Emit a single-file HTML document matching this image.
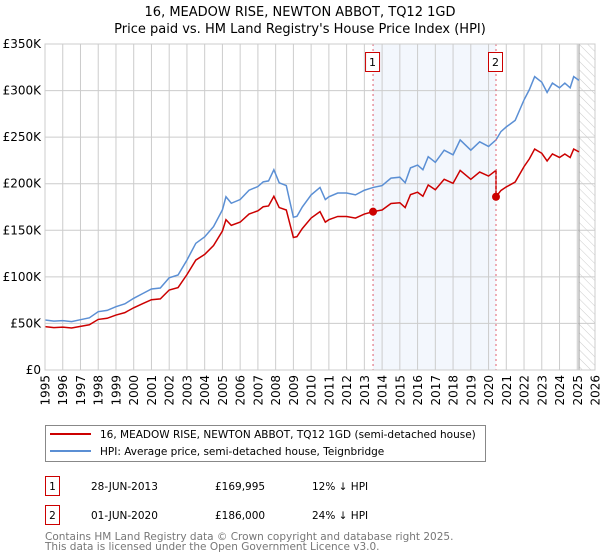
<!DOCTYPE html>
<html><head><meta charset="utf-8"><style>
body{margin:0;background:#fff;}
svg{display:block}
svg text{font-family:"DejaVu Sans","Liberation Sans",sans-serif;}
</style></head><body>
<svg id="c" width="600" height="560" xmlns="http://www.w3.org/2000/svg">
<defs><pattern id="hatch" width="6" height="6" patternUnits="userSpaceOnUse" patternTransform="rotate(-45)"><line x1="0" y1="0" x2="0" y2="6" stroke="#ccc" stroke-width="1"/></pattern></defs>
<text x="300" y="16" text-anchor="middle" font-size="13">16, MEADOW RISE, NEWTON ABBOT, TQ12 1GD</text>
<text x="300" y="33" text-anchor="middle" font-size="13">Price paid vs. HM Land Registry's House Price Index (HPI)</text>
<g id="plot"></g>
<g>
<rect x="45.5" y="425.5" width="440" height="36" fill="#fff" stroke="#888"/>
<line x1="50" y1="434" x2="91" y2="434" stroke="#cc0000" stroke-width="2"/>
<text x="100" y="438" font-size="10.5">16, MEADOW RISE, NEWTON ABBOT, TQ12 1GD (semi-detached house)</text>
<line x1="50" y1="451" x2="91" y2="451" stroke="#5b8fd4" stroke-width="2"/>
<text x="100" y="455" font-size="10.5">HPI: Average price, semi-detached house, Teignbridge</text>
</g>
<g font-size="10.5">
<rect x="45.5" y="476.5" width="14" height="19" fill="#fff" stroke="#cc0000"/>
<text x="52.5" y="490" text-anchor="middle">1</text>
<text x="91" y="490">28-JUN-2013</text><text x="215" y="490">£169,995</text><text x="312" y="490">12% ↓ HPI</text>
<rect x="45.5" y="505.5" width="14" height="19" fill="#fff" stroke="#cc0000"/>
<text x="52.5" y="519" text-anchor="middle">2</text>
<text x="91" y="519">01-JUN-2020</text><text x="215" y="519">£186,000</text><text x="312" y="519">24% ↓ HPI</text>
</g>
<g font-size="10.5" fill="#777">
<text x="45" y="540">Contains HM Land Registry data © Crown copyright and database right 2025.</text>
<text x="45" y="550">This data is licensed under the Open Government Licence v3.0.</text>
</g>
</svg>
<script>
const hpiYears=[1995,1995.5,1996,1996.5,1997,1997.5,1998,1998.5,1999,1999.5,2000,2000.5,2001,2001.5,2002,2002.5,2003,2003.5,2004,2004.5,2005,2005.2,2005.5,2006,2006.5,2007,2007.3,2007.6,2007.9,2008.2,2008.6,2009,2009.2,2009.5,2010,2010.5,2010.8,2011,2011.5,2012,2012.5,2013,2013.5,2014,2014.5,2015,2015.3,2015.6,2016,2016.3,2016.6,2017,2017.5,2018,2018.4,2019,2019.5,2020,2020.42,2020.7,2021,2021.5,2022,2022.3,2022.6,2023,2023.3,2023.6,2024,2024.3,2024.6,2024.8,2025.1];
const hpiValues=[53.7,52.5,53,52,54,56,62.6,64,68,71,77,82,87,88,99,102,118,136,143,154,172,186,179,183,193,197,202,203,215,201,198,164,165,175,188,196,183,186,190,190,188,193,196,198,206,207,201,217,220,215,229,223,236,231,247,236,245,240,247,256,261,268,290,301,315,309,298,308,303,308,303,315,311];
const saleDates=[2013.49,2020.42];
const salePrices=[169995,186000];
const yTicks=[0,50000,100000,150000,200000,250000,300000,350000];
const yTickLabels=["£0","£50K","£100K","£150K","£200K","£250K","£300K","£350K"];
const xTicks=[1995,1996,1997,1998,1999,2000,2001,2002,2003,2004,2005,2006,2007,2008,2009,2010,2011,2012,2013,2014,2015,2016,2017,2018,2019,2020,2021,2022,2023,2024,2025,2026];
const X0=45,X1=595,Y0=370,Y1=44;
const sx=v=>X0+(v-1995)/(2026-1995)*(X1-X0);
const sy=v=>Y0-v/350000*(Y0-Y1);
const NS="http://www.w3.org/2000/svg";
const g=document.getElementById('plot');
function mk(t,a){const e=document.createElementNS(NS,t);for(const k in a)e.setAttribute(k,a[k]);g.appendChild(e);return e;}
let r=mk('rect',{x:sx(saleDates[0]),y:Y1,width:sx(saleDates[1])-sx(saleDates[0]),height:Y0-Y1,fill:'#eef3fc',opacity:0.7});


const dataEnd=2025.1;
let h=mk('rect',{x:sx(dataEnd),y:Y1,width:X1-sx(dataEnd),height:Y0-Y1,fill:'url(#hatch)'});


xTicks.forEach(t=>{const l=mk('line',{x1:sx(t),x2:sx(t),y1:Y1,y2:Y0,stroke:'#ccc','stroke-width':1});


const tx=mk('text',{x:0,y:0,'font-size':12,'text-anchor':'end',transform:`translate(${sx(t)+4.5},${375}) rotate(-90)`});


tx.textContent=t;});
yTicks.forEach((t,i)=>{const l=mk('line',{x1:X0,x2:X1,y1:sy(t),y2:sy(t),stroke:'#ccc','stroke-width':1});


const tx=mk('text',{x:X0-4,y:sy(t)+4,'font-size':12,'text-anchor':'end'});


tx.textContent=yTickLabels[i];});
let el=mk('line',{x1:sx(dataEnd),x2:sx(dataEnd),y1:Y1,y2:Y0,stroke:'#999','stroke-width':1});


function hpiAt(d){for(let i=1;i<hpiYears.length;i++){if(d<=hpiYears[i]){const f=(d-hpiYears[i-1])/(hpiYears[i]-hpiYears[i-1]);return (hpiValues[i-1]+f*(hpiValues[i]-hpiValues[i-1]))*1000;}}return hpiValues[hpiValues.length-1]*1000;}
let hp=hpiYears.map((d,i)=>sx(d)+','+sy(hpiValues[i]*1000)).join(' ');
let hl=mk('polyline',{points:hp,fill:'none',stroke:'#5b8fd4','stroke-width':1.5});


const r1=salePrices[0]/hpiAt(saleDates[0]),r2=salePrices[1]/hpiAt(saleDates[1]);
let pts=[];
hpiYears.forEach((d,i)=>{if(d<saleDates[1])pts.push([d,hpiValues[i]*1000*r1]);});
pts.push([saleDates[1],hpiAt(saleDates[1])*r1]);
pts.push([saleDates[1],salePrices[1]]);
hpiYears.forEach((d,i)=>{if(d>saleDates[1])pts.push([d,hpiValues[i]*1000*r2]);});
let pl=mk('polyline',{points:pts.map(p=>sx(p[0])+','+sy(p[1])).join(' '),fill:'none',stroke:'#cc0000','stroke-width':1.5});


saleDates.forEach((d,i)=>{
const v=mk('line',{x1:sx(d),x2:sx(d),y1:Y1,y2:Y0,stroke:'#e06070','stroke-width':1,'stroke-dasharray':'2,3'});


const c=mk('circle',{cx:sx(d),cy:sy(salePrices[i]),r:4,fill:'#cc0000'});


const b=mk('rect',{x:sx(d)-7.5,y:52.5,width:14,height:19,fill:'#fff',stroke:'#cc0000'});


const t=mk('text',{x:sx(d)-0.5,y:66,'font-size':11,'text-anchor':'middle'});


t.textContent=i+1;});
let fr=mk('rect',{x:X0,y:Y1,width:X1-X0,height:Y0-Y1,fill:'none',stroke:'#ccc'});


</script>
</body></html>
